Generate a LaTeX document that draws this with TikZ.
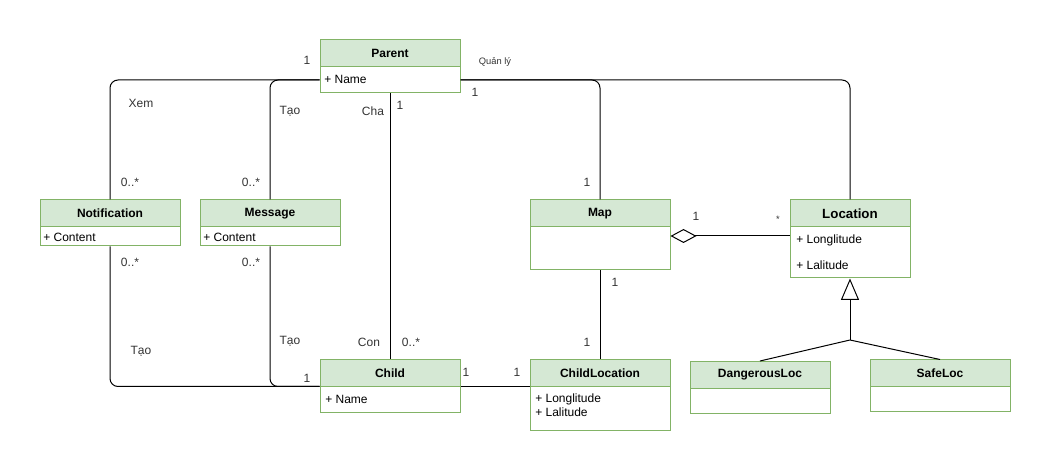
\documentclass[tikz,border=0pt]{standalone}
\usepackage{fontspec}
\setmainfont{Liberation Sans}
\usetikzlibrary{arrows.meta}
\definecolor{hdrfill}{HTML}{D5E8D4}
\definecolor{hdrline}{HTML}{82B366}
\definecolor{lbltext}{HTML}{333333}
\tikzset{
  cls/.style={draw=hdrline,fill=hdrfill,line width=0.75pt,minimum width=105pt,minimum height=20.25pt,inner sep=0pt,font=\bfseries\small},
  body/.style={draw=hdrline,fill=white,line width=0.75pt,minimum width=105pt,inner sep=0pt},
  attr/.style={anchor=west,inner sep=0pt,font=\small},
  lbl/.style={inner sep=0pt,font=\small,text=lbltext},
  assoc/.style={draw,line width=0.75pt,rounded corners=6pt}
}

\begin{document}
\begin{tikzpicture}[x=0.75pt,y=-0.75pt]
  \useasboundingbox (0,0) rectangle (1051,474);

  \node[body,minimum height=19.5pt] (ParentBody) at (390,80) {};
  \node[cls] (Parent) at (390,53.5) {Parent};
  \node[attr] (pname) at (324,79) {+ Name};

  \node[body,minimum height=14.25pt] (NotificationBody) at (110,236.5) {};
  \node[cls] (Notification) at (110,213.5) {Notification};
  \node[attr] (ncontent) at (43,237) {+ Content};

  \node[body,minimum height=14.25pt] (MessageBody) at (270,236.5) {};
  \node[cls] (Message) at (270,213.5) {Message};
  \node[attr] (mcontent) at (203,237) {+ Content};

  \node[body,minimum height=32.25pt] (MapBody) at (600,248.5) {};
  \node[cls] (Map) at (600,213.5) {Map};

  \node[body,minimum width=90pt,minimum height=38.25pt] (LocationBody) at (850,252.5) {};
  \node[cls,minimum width=90pt,font=\bfseries\normalsize] (Location) at (850,213.5) {Location};
  \node[attr] (llong) at (796,240) {+ Longlitude};
  \node[attr] (llat) at (796,265) {+ Lalitude};

  \node[body,minimum height=18.75pt] (ChildBody) at (390,399.5) {};
  \node[cls] (Child) at (390,373.5) {Child};
  \node[attr] (cname) at (325,399) {+ Name};

  \node[body,minimum height=32.25pt] (ChildLocationBody) at (600,408.5) {};
  \node[cls] (ChildLocation) at (600,373.5) {ChildLocation};
  \node[attr] (cllong) at (535,399) {+ Longlitude};
  \node[attr] (cllat) at (535,412) {+ Lalitude};

  \node[body,minimum height=18.75pt] (DangerousLocBody) at (760,400.5) {};
  \node[cls] (DangerousLoc) at (760,375) {DangerousLoc};

  \node[body,minimum height=18pt] (SafeLocBody) at (940,399) {};
  \node[cls] (SafeLoc) at (940,373.5) {SafeLoc};

  \draw[assoc] (ParentBody.west) -| (Notification.north);
  \draw[assoc] (ParentBody.west) -| (Message.north);
  \draw[assoc] (ParentBody.east) -| (Map.north);
  \draw[assoc] (ParentBody.east) -| (Location.north);
  \draw[assoc] (ParentBody.south) -- (Child.north);
  \draw[assoc] (NotificationBody.south) |- (ChildBody.north west);
  \draw[assoc] (MessageBody.south) |- (ChildBody.north west);
  \draw[assoc] (ChildBody.north east) -- (ChildLocationBody.north west);
  \draw[assoc] (MapBody.south) -- (ChildLocation.north);
  \draw[assoc,{Diamond[open,length=19.5pt,width=10.5pt]}-] (MapBody.east |- 0,236) -- (LocationBody.west |- 0,236);
  \coordinate (gen) at (850,340);
  \draw[assoc,{Triangle[open,length=16pt,width=13.5pt]}-] (LocationBody.south) -- (gen);
  \draw[assoc] (gen) -- (DangerousLoc.north);
  \draw[assoc] (gen) -- (SafeLoc.north);

  \node[lbl] (m1) at (307,60) {1};
  \node[lbl,font=\scriptsize] (quanly) at (495,62) {Quản lý};
  \node[lbl] (m2) at (475,92) {1};
  \node[lbl] (xem) at (141,103) {Xem};
  \node[lbl] (tao1) at (290,111) {Tạo};
  \node[lbl] (cha) at (373,111) {Cha};
  \node[lbl] (m3) at (400,105) {1};
  \node[lbl] (m4) at (130,182) {0..*};
  \node[lbl] (m5) at (251,182) {0..*};
  \node[lbl] (m6) at (587,182) {1};
  \node[lbl] (m7) at (696,216) {1};
  \node[lbl,font=\scriptsize] (m8) at (778,219) {*};
  \node[lbl] (m9) at (130,262) {0..*};
  \node[lbl] (m10) at (251,262) {0..*};
  \node[lbl] (m11) at (615,282) {1};
  \node[lbl] (tao2) at (141,351) {Tạo};
  \node[lbl] (tao3) at (290,341) {Tạo};
  \node[lbl] (con) at (369,342) {Con};
  \node[lbl] (m12) at (411,342) {0..*};
  \node[lbl] (m13) at (587,342) {1};
  \node[lbl] (m14) at (307,378) {1};
  \node[lbl] (m15) at (466,372) {1};
  \node[lbl] (m16) at (517,372) {1};
\end{tikzpicture}
\end{document}
